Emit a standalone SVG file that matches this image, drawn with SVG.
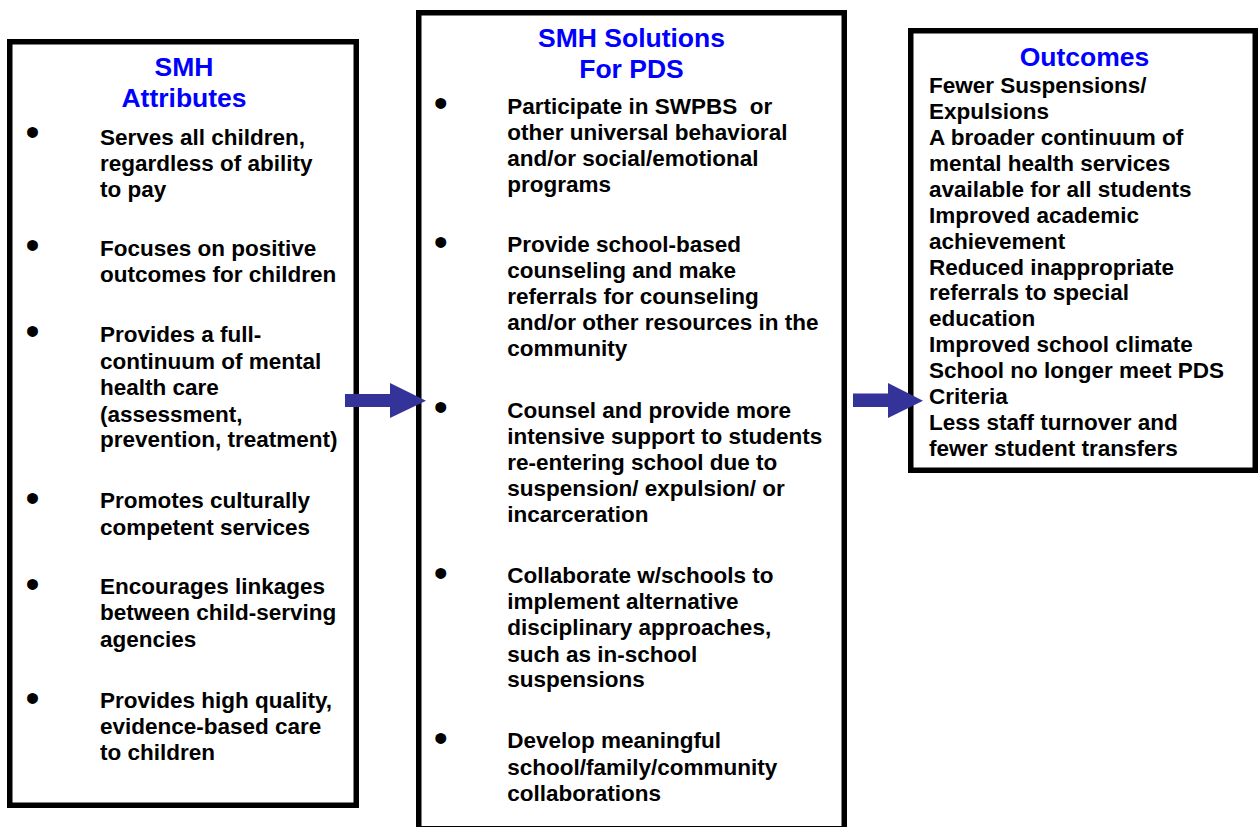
<svg xmlns="http://www.w3.org/2000/svg" width="1258" height="827" viewBox="0 0 1258 827">
  <style>
    .box { fill: #ffffff; stroke: #000000; stroke-width: 5.5; }
    .title { font-family: "Liberation Sans", Arial, sans-serif; font-weight: bold; font-size: 26.5px; fill: #0000ff; text-anchor: middle; }
    .body { font-family: "Liberation Sans", Arial, sans-serif; font-weight: bold; font-size: 22.5px; fill: #000000; }
    .bullet { font-family: "Liberation Sans", Arial, sans-serif; font-size: 40px; fill: #000000; text-anchor: middle; }
    .arrow { fill: #333399; stroke: none; }
  </style>
  <rect width="1258" height="827" fill="#ffffff"/>

  <!-- Left column: attributes -->
  <g id="attributes">
    <rect class="box" x="9.75" y="41.75" width="346.5" height="763.5"/>
    <text class="title" x="184" y="76">SMH</text>
    <text class="title" x="184" y="107">Attributes</text>
    <text class="bullet" x="32.5" y="145.9">•</text>
    <text class="body"><tspan x="100" y="144.5">Serves all children,</tspan><tspan x="100" y="170.5">regardless of ability</tspan><tspan x="100" y="196.5">to pay</tspan></text>
    <text class="bullet" x="32.5" y="259.4">•</text>
    <text class="body"><tspan x="100" y="256">Focuses on positive</tspan><tspan x="100" y="282">outcomes for children</tspan></text>
    <text class="bullet" x="32.5" y="345.4">•</text>
    <text class="body"><tspan x="100" y="342">Provides a full-</tspan><tspan x="100" y="368.5">continuum of mental</tspan><tspan x="100" y="395">health care</tspan><tspan x="100" y="421.5">(assessment,</tspan><tspan x="100" y="447">prevention, treatment)</tspan></text>
    <text class="bullet" x="32.5" y="512.1">•</text>
    <text class="body"><tspan x="100" y="508">Promotes culturally</tspan><tspan x="100" y="534.5">competent services</tspan></text>
    <text class="bullet" x="32.5" y="597.7">•</text>
    <text class="body"><tspan x="100" y="593.5">Encourages linkages</tspan><tspan x="100" y="620">between child-serving</tspan><tspan x="100" y="646.5">agencies</tspan></text>
    <text class="bullet" x="32.5" y="712.1">•</text>
    <text class="body"><tspan x="100" y="708.3">Provides high quality,</tspan><tspan x="100" y="734">evidence-based care</tspan><tspan x="100" y="760">to children</tspan></text>
  </g>

  <!-- Middle column: solutions -->
  <g id="solutions">
    <rect class="box" x="418.75" y="12.75" width="425.5" height="816"/>
    <text class="title" x="631.5" y="47.3">SMH Solutions</text>
    <text class="title" x="631.5" y="78.3">For PDS</text>
    <text class="bullet" x="440.7" y="116.7">•</text>
    <text class="body" xml:space="preserve"><tspan x="507.3" y="114.3">Participate in SWPBS  or</tspan><tspan x="507.3" y="140.2">other universal behavioral</tspan><tspan x="507.3" y="166">and/or social/emotional</tspan><tspan x="507.3" y="191.8">programs</tspan></text>
    <text class="bullet" x="440.7" y="256.1">•</text>
    <text class="body"><tspan x="507.3" y="252.3">Provide school-based</tspan><tspan x="507.3" y="278.3">counseling and make</tspan><tspan x="507.3" y="304.2">referrals for counseling</tspan><tspan x="507.3" y="330">and/or other resources in the</tspan><tspan x="507.3" y="355.8">community</tspan></text>
    <text class="bullet" x="440.7" y="421.1">•</text>
    <text class="body"><tspan x="507.3" y="417.7">Counsel and provide more</tspan><tspan x="507.3" y="443.5">intensive support to students</tspan><tspan x="507.3" y="469.5">re-entering school due to</tspan><tspan x="507.3" y="495.8">suspension/ expulsion/ or</tspan><tspan x="507.3" y="521.7">incarceration</tspan></text>
    <text class="bullet" x="440.7" y="587.1">•</text>
    <text class="body"><tspan x="507.3" y="582.7">Collaborate w/schools to</tspan><tspan x="507.3" y="609.2">implement alternative</tspan><tspan x="507.3" y="635.2">disciplinary approaches,</tspan><tspan x="507.3" y="661.5">such as in-school</tspan><tspan x="507.3" y="687.3">suspensions</tspan></text>
    <text class="bullet" x="440.7" y="751.7">•</text>
    <text class="body"><tspan x="507.3" y="748.3">Develop meaningful</tspan><tspan x="507.3" y="774.8">school/family/community</tspan><tspan x="507.3" y="800.7">collaborations</tspan></text>
  </g>

  <!-- Right column: outcomes -->
  <g id="outcomes">
    <rect class="box" x="910.75" y="30.75" width="344.5" height="439.5"/>
    <text class="title" x="1084.5" y="66">Outcomes</text>
    <text class="body"><tspan x="929" y="93.3">Fewer Suspensions/</tspan><tspan x="929" y="119.2">Expulsions</tspan><tspan x="929" y="145.1">A broader continuum of</tspan><tspan x="929" y="171">mental health services</tspan><tspan x="929" y="196.9">available for all students</tspan><tspan x="929" y="222.8">Improved academic</tspan><tspan x="929" y="248.6">achievement</tspan><tspan x="929" y="274.5">Reduced inappropriate</tspan><tspan x="929" y="300.4">referrals to special</tspan><tspan x="929" y="326.3">education</tspan><tspan x="929" y="352.2">Improved school climate</tspan><tspan x="929" y="378">School no longer meet PDS</tspan><tspan x="929" y="403.9">Criteria</tspan><tspan x="929" y="429.8">Less staff turnover and</tspan><tspan x="929" y="455.6">fewer student transfers</tspan></text>
  </g>

  <!-- Block arrows between the columns -->
  <g id="connectors">
    <polygon class="arrow" points="345,394 390,394 390,383 426,400.7 390,418 390,407 345,407"/>
    <polygon class="arrow" points="853,393.5 888,393.5 888,383 923,400.7 888,418 888,407 853,407"/>
  </g>
</svg>
